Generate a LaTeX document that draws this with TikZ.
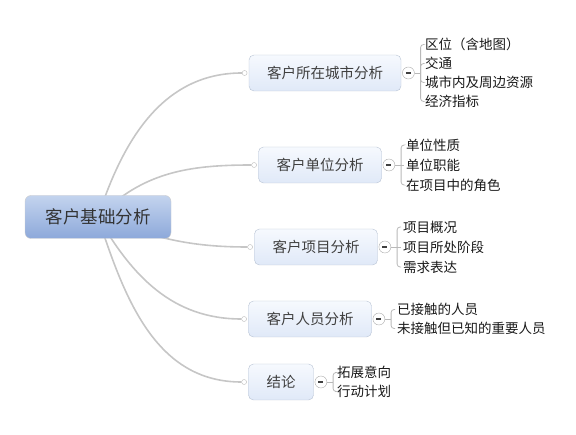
\documentclass[tikz,border=0pt]{standalone}
\usepackage{fontspec}
\setmainfont{Noto Sans CJK SC}
\usetikzlibrary{positioning, backgrounds, calc}
\definecolor{linkgray}{HTML}{C6C6C6}
\definecolor{rootup}{HTML}{C3D3EE}
\definecolor{rootdown}{HTML}{8DA9DA}
\definecolor{topicup}{HTML}{F6F9FE}
\definecolor{topicdown}{HTML}{E0E9F8}
\definecolor{topicline}{HTML}{B7C2D3}

\begin{document}
\begin{tikzpicture}[
    x=1pt, y=-1pt,
    every node/.style={font=\fontsize{13.5}{15}\selectfont, text=black!90},
    rootbox/.style={rectangle, draw=gray!40, rounded corners=6pt, top color=rootup, bottom color=rootdown, minimum width=146pt, minimum height=43pt, font=\fontsize{17.5}{20}\selectfont, text=black!80},
    topic/.style={rectangle, draw=topicline, rounded corners=5pt, top color=topicup, bottom color=topicdown, inner xsep=18pt, minimum height=36pt, font=\fontsize{14.5}{17}\selectfont, text=black!75},
    knob/.style={circle, draw=gray!55, fill=white, inner sep=0pt, minimum size=5pt},
    fold/.style={circle, draw=gray!65, fill=white, inner sep=0pt, minimum size=12pt,
        path picture={\draw[line width=1.2pt, black!75] ([xshift=-2.5pt]path picture bounding box.center) -- ([xshift=2.5pt]path picture bounding box.center);}},
    leaf/.style={anchor=west, inner sep=2pt},
    link/.style={draw=linkgray, line width=1.6pt},
    brace/.style={draw=gray!55, line width=0.8pt, rounded corners=3pt}
]
\useasboundingbox (0,0) rectangle (576,435);

% root
\node[rootbox] (root) at (98,217) {客户基础分析};

% topics
\node[topic] (t1) at (325,73) {客户所在城市分析};
\node[topic] (t2) at (320,165) {客户单位分析};
\node[topic] (t3) at (316,247) {客户项目分析};
\node[topic] (t4) at (310,319) {客户人员分析};
\node[topic] (t5) at (281,382) {结论};

\node[knob, left=1.5pt of t1] (k1) {};
\node[knob, left=1.5pt of t2] (k2) {};
\node[knob, left=1.5pt of t3] (k3) {};
\node[knob, left=1.5pt of t4] (k4) {};
\node[knob, left=1.5pt of t5] (k5) {};

\node[fold, right=1pt of t1] (f1) {};
\node[fold, right=1pt of t2] (f2) {};
\node[fold, right=1pt of t3] (f3) {};
\node[fold, right=1pt of t4] (f4) {};
\node[fold, right=1pt of t5] (f5) {};

% curved links behind the boxes
\begin{scope}[on background layer]
\draw[link] (root.center) to[out=72, in=180] (k1);
\draw[link] (root.center) to[out=45, in=180] (k2);
\draw[link] (root.center) to[out=-20, in=180] (k3);
\draw[link] (root.center) to[out=-60, in=180] (k4);
\draw[link] (root.center) to[out=-72, in=180] (k5);
\end{scope}

% leaves
\node[leaf] (l1a) at (423,44.5) {区位（含地图）};
\node[leaf] (l1b) at (423,63.5) {交通};
\node[leaf] (l1c) at (423,82.5) {城市内及周边资源};
\node[leaf] (l1d) at (423,101.5) {经济指标};

\node[leaf] (l2a) at (404,145) {单位性质};
\node[leaf] (l2b) at (404,165) {单位职能};
\node[leaf] (l2c) at (404,185) {在项目中的角色};

\node[leaf] (l3a) at (401,227) {项目概况};
\node[leaf] (l3b) at (401,247) {项目所处阶段};
\node[leaf] (l3c) at (401,267) {需求表达};

\node[leaf] (l4a) at (395,309.5) {已接触的人员};
\node[leaf] (l4b) at (395,328.5) {未接触但已知的重要人员};

\node[leaf] (l5a) at (335,372.5) {拓展意向};
\node[leaf] (l5b) at (335,391.5) {行动计划};

% braces
\draw[brace] (f1.east) -- ++(6,0) coordinate (j1);
\draw[brace] (j1) |- (l1a.west);
\draw[brace] (j1) |- (l1b.west);
\draw[brace] (j1) |- (l1c.west);
\draw[brace] (j1) |- (l1d.west);

\draw[brace] (f2.east) -- ++(6,0) coordinate (j2);
\draw[brace] (j2) |- (l2a.west);
\draw[brace] (j2) -- (l2b.west);
\draw[brace] (j2) |- (l2c.west);

\draw[brace] (f3.east) -- ++(6,0) coordinate (j3);
\draw[brace] (j3) |- (l3a.west);
\draw[brace] (j3) -- (l3b.west);
\draw[brace] (j3) |- (l3c.west);

\draw[brace] (f4.east) -- ++(6,0) coordinate (j4);
\draw[brace] (j4) |- (l4a.west);
\draw[brace] (j4) |- (l4b.west);

\draw[brace] (f5.east) -- ++(6,0) coordinate (j5);
\draw[brace] (j5) |- (l5a.west);
\draw[brace] (j5) |- (l5b.west);
\end{tikzpicture}
\end{document}
